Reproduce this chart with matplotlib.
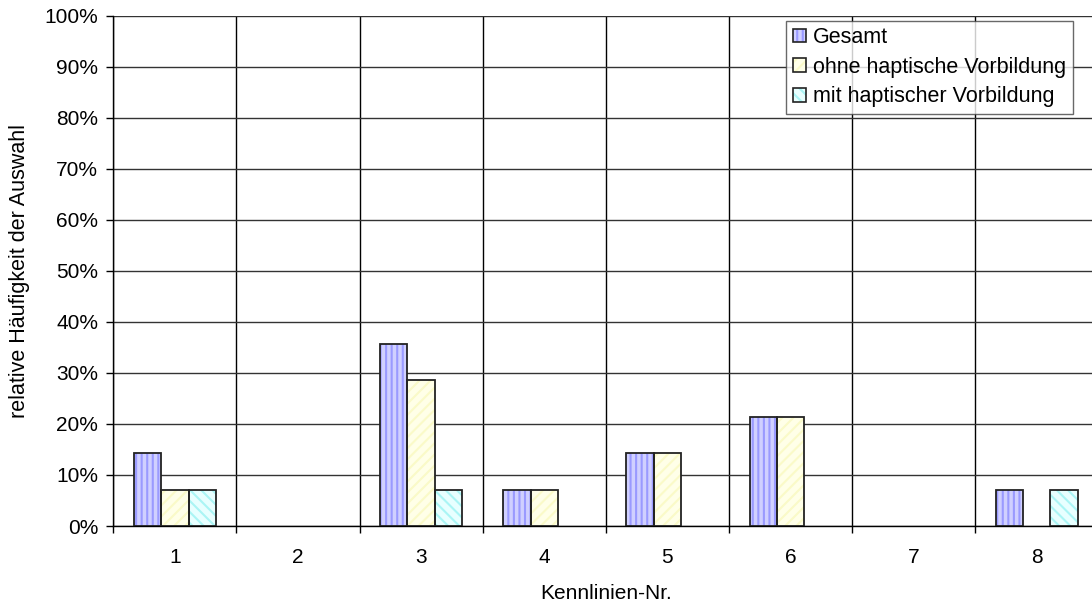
import numpy as np
import matplotlib
matplotlib.use("Agg")
import matplotlib.pyplot as plt
from matplotlib.patches import Patch
from matplotlib.ticker import FuncFormatter, MultipleLocator

plt.rcParams['font.family'] = ['Liberation Sans', 'DejaVu Sans']
plt.rcParams['hatch.linewidth'] = 1.5

categories = ['1', '2', '3', '4', '5', '6', '7', '8']
gesamt = [14.29, 0, 35.71, 7.14, 14.29, 21.43, 0, 7.14]
ohne = [7.14, 0, 28.57, 7.14, 14.29, 21.43, 0, 0]
mit = [7.14, 0, 7.14, 0, 0, 0, 0, 7.14]
labels = ['Gesamt', 'ohne haptische Vorbildung', 'mit haptischer Vorbildung']

series = [gesamt, ohne, mit]
faces = ['#D0D0FF', '#FFFFE8', '#E8FFFF']
hatch_cols = ['#9A9AFF', '#FAFAC8', '#AAF5F5']
hatches = ['|||', '///', '\\\\\\']
fs = 15

fig = plt.figure(figsize=(10.92, 6.07), dpi=100)
ax = fig.add_axes([0.1038, 0.1334, 0.902, 0.841])

x = np.arange(len(categories))
w = 0.222
for i, (vals, fc, hc, h) in enumerate(zip(series, faces, hatch_cols, hatches)):
    vals = np.array(vals, dtype=float)
    keep = vals > 0
    pos = x[keep] + (i - 1) * w
    ax.bar(pos, vals[keep], w, facecolor=fc, edgecolor=hc, hatch=h, linewidth=0, zorder=3)
    ax.bar(pos, vals[keep], w, fill=False, edgecolor='#222222', linewidth=1.3, zorder=4)

ax.set_xlim(-0.5, len(categories) - 0.5)
ax.set_ylim(0, 100)
ax.yaxis.set_major_locator(MultipleLocator(10))
ax.yaxis.set_major_formatter(FuncFormatter(lambda v, p: f'{v:.0f}%'))
ax.set_xticks(x)
ax.set_xticklabels(categories)
ax.set_xticks(np.arange(len(categories) + 1) - 0.5, minor=True)
ax.tick_params(axis='x', which='major', length=0, pad=16, labelsize=fs)
ax.tick_params(axis='x', which='minor', length=5, width=1, direction='out')
ax.tick_params(axis='y', length=5, width=1, direction='out', labelsize=fs, pad=6)

ax.grid(axis='y', color='#333333', linewidth=1, zorder=0)
ax.grid(axis='x', which='minor', color='black', linewidth=1, zorder=0)
ax.set_axisbelow(True)

for s in ['top', 'right']:
    ax.spines[s].set_visible(False)
ax.spines['left'].set_linewidth(1)
ax.spines['bottom'].set_linewidth(1)

ax.set_xlabel('Kennlinien-Nr.', fontsize=fs, labelpad=12)
ax.set_ylabel('relative Häufigkeit der Auswahl', fontsize=15.5, labelpad=10)

handles = [(Patch(facecolor=fc, edgecolor=hc, hatch=h, linewidth=0),
            Patch(fill=False, edgecolor='#222222', linewidth=1.2))
           for fc, hc, h in zip(faces, hatch_cols, hatches)]
leg = ax.legend(handles, labels, loc='upper right', bbox_to_anchor=(0.974, 0.99),
                fontsize=15.5, frameon=True, fancybox=False, edgecolor='#444444',
                handlelength=0.6, handleheight=0.6, handletextpad=0.35,
                borderpad=0.3, labelspacing=0.4, borderaxespad=0)
leg.get_frame().set_linewidth(1)
leg.set_zorder(5)

fig.savefig('out.png', dpi=100, facecolor='white')
